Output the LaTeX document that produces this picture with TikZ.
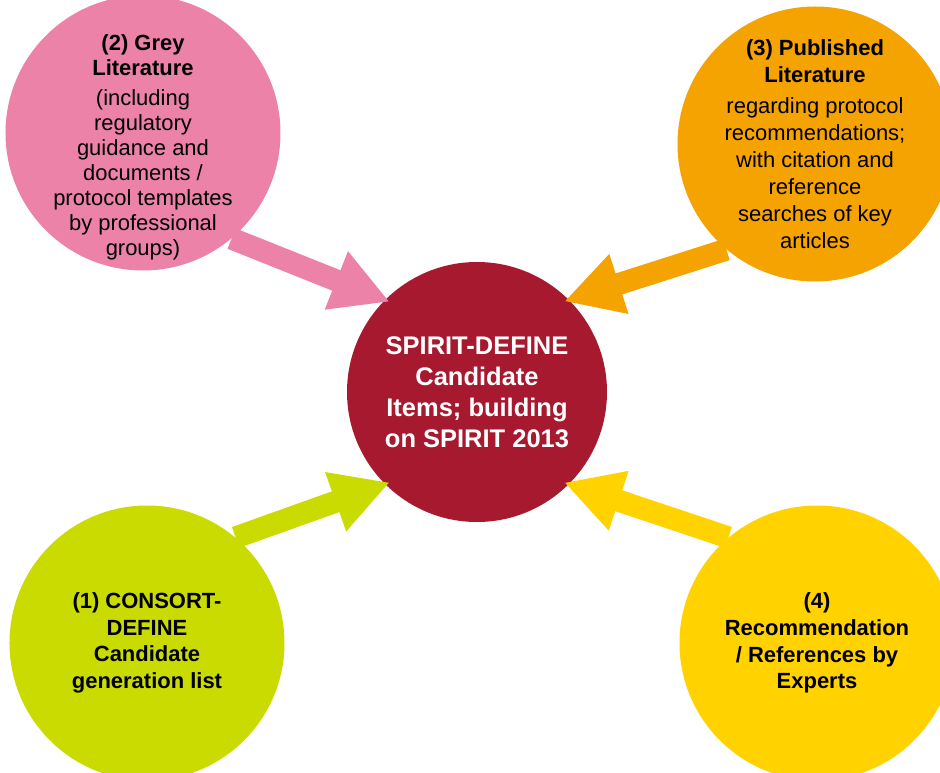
\documentclass[tikz,border=0pt]{standalone}
\usepackage{fontspec}
\setmainfont{Liberation Sans}
\usepackage{tikz}
\usetikzlibrary{positioning,arrows.meta}
\definecolor{cpink}{HTML}{EC82A8}
\definecolor{corange}{HTML}{F5A300}
\definecolor{cgreen}{HTML}{C9DB00}
\definecolor{cyellow}{HTML}{FFD200}
\definecolor{cred}{HTML}{A6192F}
\tikzset{
  srccircle/.style={circle, minimum size=55mm, inner sep=-4mm, align=center, font=\fontsize{12.5}{14.2}\selectfont},
  hubcircle/.style={circle, minimum size=52mm, inner sep=0pt, align=center, text=white, font=\bfseries\fontsize{14.5}{17.6}\selectfont},
  feed/.style={-{Triangle[length=11.5mm,width=11.7mm]}, line width=4.4mm, shorten >=-3pt},
  greylit/.style={fill=cpink},
  publit/.style={fill=corange},
  consort/.style={fill=cgreen},
  experts/.style={fill=cyellow},
  hub/.style={fill=cred},
}

\begin{document}
\begin{tikzpicture}
  \useasboundingbox (-9.54,7.84) rectangle (9.26,-7.60);

  \node[hubcircle, hub] (spirit) {SPIRIT-DEFINE\\Candidate\\Items; building\\on SPIRIT 2013};
  \node[srccircle, greylit, inner sep=-6mm] (src2) [xshift=-6.68cm, yshift=5.18cm] {\rule{0pt}{9mm}\textbf{(2) Grey}\\\textbf{Literature}\\[3pt](including\\regulatory\\guidance and\\documents /\\protocol templates\\by professional\\groups)};
  \node[srccircle, publit, font=\fontsize{12.5}{15.4}\selectfont] (src3) [xshift=6.76cm, yshift=4.96cm] {\textbf{(3) Published}\\\textbf{Literature}\\[2pt]regarding protocol\\recommendations;\\with citation and\\reference\\searches of key\\articles};
  \node[srccircle, consort, font=\bfseries\fontsize{12.5}{15.2}\selectfont] (src1) [xshift=-6.60cm, yshift=-5.02cm] {(1) CONSORT-\\DEFINE\\Candidate\\generation list};
  \node[srccircle, experts, font=\bfseries\fontsize{12.5}{15.2}\selectfont] (src4) [xshift=6.80cm, yshift=-5.02cm] {(4)\\Recommendation\\/ References by\\Experts};

  \draw[feed, cpink] (src2.-50) -- (spirit.135);
  \draw[feed, corange] (src3.230) -- (spirit.45);
  \draw[feed, cgreen] (src1.50) -- (spirit.225);
  \draw[feed, cyellow] (src4.130) -- (spirit.-45);
\end{tikzpicture}
\end{document}
